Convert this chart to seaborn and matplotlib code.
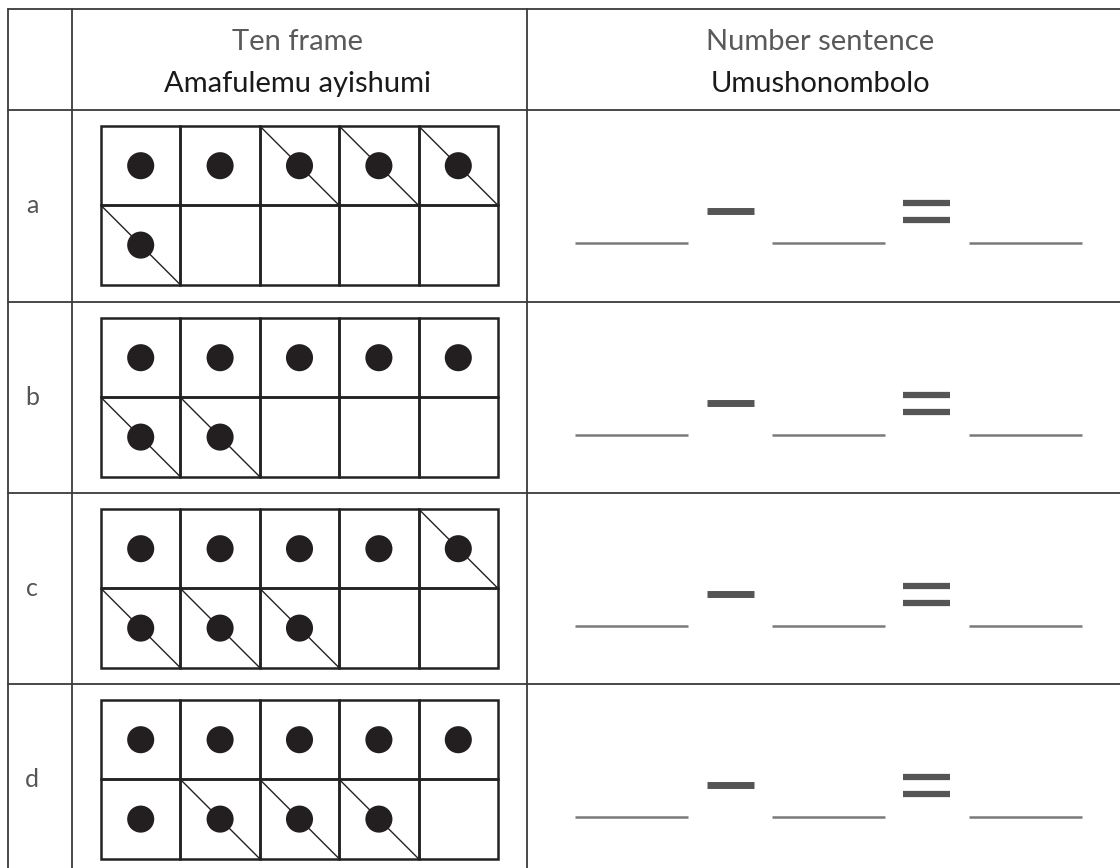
import matplotlib
matplotlib.use("Agg")
import matplotlib.pyplot as plt
import seaborn as sns
import pandas as pd

sns.set_theme(style="white")
plt.rcParams['font.family'] = ['Lato', 'DejaVu Sans']

row_labels = ['a', 'b', 'c', 'd']
dot_counts = [6, 7, 8, 9]
crossed_counts = [4, 2, 4, 3]
header_gray = ['Ten frame', 'Number sentence']
header_black = ['Amafulemu ayishumi', 'Umushonombolo']

# layout (pixels)
W, H = 1120, 868
col_x = [8, 72, 527]
row_y = [9, 110, 302, 493, 684]
cell = 79.4
frame_left = 101
header_cx = [298, 820]

fig = plt.figure(figsize=(W / 100, H / 100), dpi=100)
ax = fig.add_axes([0, 0, 1, 1])

# table grid (bottom and right edges fall outside the picture)
for x in col_x:
    ax.plot([x, x], [row_y[0], H + 5], color='#3a3a3a', lw=1.3)
for y in row_y:
    ax.plot([col_x[0], W + 5], [y, y], color='#3a3a3a', lw=1.3)

# headers
for i in range(2):
    ax.text(header_cx[i], 42, header_gray[i], ha='center', va='center', fontsize=21,
            color='#5a5a5a')
    ax.text(header_cx[i], 84, header_black[i], ha='center', va='center', fontsize=21,
            color='#1a1a1a')

rows = []
for r, (lab, n, k) in enumerate(zip(row_labels, dot_counts, crossed_counts)):
    top = row_y[r + 1] + 16
    mid_y = top + cell
    ax.text(32, mid_y, lab, ha='center', va='center', fontsize=18, color='#555555')
    # ten frame cells
    for j in range(2):
        for i in range(5):
            x0 = frame_left + i * cell
            y0 = top + j * cell
            ax.add_patch(plt.Rectangle((x0, y0), cell, cell, fill=False,
                                       edgecolor='#222222', lw=1.8))
    for d in range(n):
        i, j = d % 5, d // 5
        x0 = frame_left + i * cell
        y0 = top + j * cell
        rows.append({'x': x0 + cell / 2, 'y': y0 + cell / 2, 'row': lab})
        if d >= n - k:
            ax.plot([x0, x0 + cell], [y0, y0 + cell], color='#222222', lw=1.0)
    # number sentence
    line_y = mid_y + 38
    for x0 in [575, 772, 969]:
        ax.plot([x0, x0 + 113], [line_y, line_y], color='#7a7a7a', lw=1.8,
                solid_capstyle='butt')
    ax.plot([707, 754], [line_y - 32, line_y - 32], color='#555555', lw=5.0,
            solid_capstyle='butt')
    for dy in [-40, -23]:
        ax.plot([903, 950], [line_y + dy, line_y + dy], color='#555555', lw=4.5,
                solid_capstyle='butt')

dots = pd.DataFrame(rows)
sns.scatterplot(data=dots, x='x', y='y', color='#231f20', s=380, edgecolor='none',
                ax=ax, legend=False, zorder=5)
ax.set_xlim(0, W)
ax.set_ylim(H, 0)
ax.axis('off')

fig.savefig('out.png', dpi=100)
